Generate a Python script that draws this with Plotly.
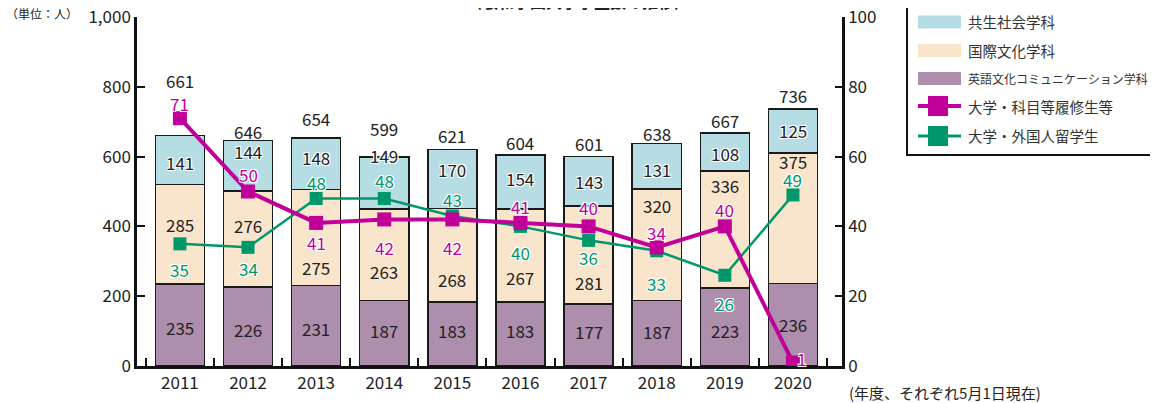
import plotly.graph_objects as go

# ---------------- data ----------------
years = ["2011", "2012", "2013", "2014", "2015", "2016", "2017", "2018", "2019", "2020"]
eigo = [235, 226, 231, 187, 183, 183, 177, 187, 223, 236]          # 英語文化コミュニケーション学科
kokusai = [285, 276, 275, 263, 268, 267, 281, 320, 336, 375]       # 国際文化学科
kyosei = [141, 144, 148, 149, 170, 154, 143, 131, 108, 125]        # 共生社会学科
totals = [661, 646, 654, 599, 621, 604, 601, 638, 667, 736]
kamoku = [71, 50, 41, 42, 42, 41, 40, 34, 40, 1]                  # 大学・科目等履修生等
ryugaku = [35, 34, 48, 48, 43, 40, 36, 33, 26, 49]                 # 大学・外国人留学生

names = ["共生社会学科", "国際文化学科", "英語文化コミュニケーション学科",
         "大学・科目等履修生等", "大学・外国人留学生"]
title = "〈敬和学園大学学生数の推移〉"
unit_label = "（単位：人）"
note_label = "(年度、それぞれ5月1日現在)"

# ---------------- style ----------------
FONT = "Noto Sans CJK JP"
BLUE = "#b5dde3"
PEACH = "#f9e5cc"
PURPLE = "#ad8eac"
MAGENTA = "#c1009a"
GREEN = "#00976a"
TXT = "#222222"
OUTLINE = "1px 1px 0 #fff, -1px -1px 0 #fff, 1px -1px 0 #fff, -1px 1px 0 #fff, 0 0 2px #fff"

W, H = 1158, 403
OFF = 8  # page body margin: the figure is drawn 8px right/down of the viewport corner
# plot area in viewport pixels: x 137..842, y 17..366
VL, VR, VT, VB = 137, 842, 17, 366
L, T = VL - OFF, VT - OFF
R, B = W - (VR - OFF), H - (VB - OFF)
PW, PH = VR - VL, VB - VT


def px(x):
    return (x - VL) / PW


def py(y):
    return (VB - y) / PH


fig = go.Figure()
bar_line = dict(color="#1a1a1a", width=1.5)
for vals, col, nm in [(eigo, PURPLE, names[2]), (kokusai, PEACH, names[1]), (kyosei, BLUE, names[0])]:
    fig.add_trace(go.Bar(x=years, y=vals, name=nm, width=0.72,
                         marker=dict(color=col, line=bar_line), showlegend=False,
                         hoverinfo="skip"))

fig.add_trace(go.Scatter(x=years, y=ryugaku, yaxis="y2", mode="lines+markers", name=names[4],
                         line=dict(color=GREEN, width=2.5),
                         marker=dict(symbol="square", size=13, color=GREEN), showlegend=False))
fig.add_trace(go.Scatter(x=years, y=kamoku, yaxis="y2", mode="lines+markers", name=names[3],
                         line=dict(color=MAGENTA, width=4),
                         marker=dict(symbol="square", size=14, color=MAGENTA), showlegend=False))

ann = []
num_font = dict(family=FONT, size=17, color=TXT)

# segment labels (x given as category index)
purple_shift = [-3, -3, -3, 3, 4, 4, 4, 2, -3, 0]
peach_shift = [10, 13, -30, -17, -24, -22, -27, 39, 44, 57]
blue_shift = [-3, 14, 6, 27, 9, 4, 0, -3, -1, 0]
for i in range(len(years)):
    a, b, c = eigo[i], kokusai[i], kyosei[i]
    ann.append(dict(x=i, y=a / 2, text=str(a), showarrow=False, yshift=purple_shift[i],
                    font=num_font))
    ann.append(dict(x=i, y=a + b / 2, text=str(b), showarrow=False, yshift=peach_shift[i],
                    font=num_font))
    ann.append(dict(x=i, y=a + b + c / 2, text=str(c), showarrow=False, yshift=blue_shift[i],
                    font=dict(family=FONT, size=17, color=TXT, shadow=OUTLINE)))

# totals
total_shift = [40, -5, 5, 14, -1, -2, -2, -5, -2, -1]
for i in range(len(years)):
    ann.append(dict(x=i, y=totals[i], text=str(totals[i]), showarrow=False, yanchor="bottom",
                    yshift=total_shift[i], font=num_font))

# line labels
mag_shift = [15, 17, -20, -28, -28, 16, 19, 15, 17, 4]
grn_shift = [-26, -21, 16, 18, 16, -26, -17, -33, -28, 15]
for i in range(len(years)):
    ann.append(dict(x=i, y=kamoku[i], yref="y2", text=str(kamoku[i]), showarrow=False,
                    yshift=mag_shift[i], xshift=9 if i == 9 else 0,
                    font=dict(family=FONT, size=17, color=MAGENTA, shadow=OUTLINE)))
    ann.append(dict(x=i, y=ryugaku[i], yref="y2", text=str(ryugaku[i]), showarrow=False,
                    yshift=grn_shift[i],
                    font=dict(family=FONT, size=17, color=GREEN, shadow=OUTLINE)))

# title / unit / note
ann.append(dict(xref="paper", yref="paper", x=px(578), y=py(1.5), text=title, showarrow=False,
                xanchor="center", yanchor="middle",
                font=dict(family=FONT, size=16, color=TXT, weight="bold")))
ann.append(dict(xref="paper", yref="paper", x=px(4), y=py(13), text=unit_label, showarrow=False,
                xanchor="left", yanchor="middle", font=dict(family=FONT, size=12, color=TXT)))
ann.append(dict(xref="paper", yref="paper", x=px(847), y=py(392), text=note_label, showarrow=False,
                xanchor="left", yanchor="middle", font=dict(family=FONT, size=15, color=TXT)))

# custom legend
shapes = [dict(type="rect", xref="paper", yref="paper", x0=px(907), x1=px(1156), y0=py(155), y1=py(3),
               line=dict(color="#111", width=2), fillcolor="white", layer="above")]
rows = [22, 50.5, 78.5, 106, 136]
for col, yc in zip([BLUE, PEACH, PURPLE], rows[:3]):
    shapes.append(dict(type="rect", xref="paper", yref="paper", x0=px(918), x1=px(961),
                       y0=py(yc + 6.5), y1=py(yc - 6.5), line=dict(width=0), fillcolor=col,
                       layer="above"))
for col, yc, lw in [(MAGENTA, rows[3], 4), (GREEN, rows[4], 3)]:
    shapes.append(dict(type="line", xref="paper", yref="paper", x0=px(918), x1=px(961),
                       y0=py(yc), y1=py(yc), line=dict(color=col, width=lw), layer="above"))
    shapes.append(dict(type="rect", xref="paper", yref="paper", x0=px(928), x1=px(948),
                       y0=py(yc + 10), y1=py(yc - 10), line=dict(width=0), fillcolor=col,
                       layer="above"))
leg_sizes = [14.5, 14.5, 12, 14.5, 14.5]
for nm, yc, fs in zip(names, [22, 50, 78, 106, 135], leg_sizes):
    ann.append(dict(xref="paper", yref="paper", x=px(966), y=py(yc), text=nm, showarrow=False,
                    xanchor="left", yanchor="middle", font=dict(family=FONT, size=fs, color="#333")))

axis_common = dict(showline=True, linecolor="#111", linewidth=2.5, tickwidth=2, tickcolor="#111",
                   showgrid=False, zeroline=False, automargin=False, ticklabeloverflow="allow",
                   tickfont=dict(family=FONT, size=17, color=TXT))
fig.update_layout(
    template="none",
    width=W, height=H, autosize=False,
    margin=dict(l=L, r=R, t=T, b=B, pad=0),
    paper_bgcolor="white", plot_bgcolor="white",
    barmode="stack",
    font=dict(family=FONT, size=17, color=TXT),
    xaxis=dict(type="category", range=[-0.63, 9.72], ticks="inside", tickson="boundaries",
               ticklen=8, **axis_common),
    yaxis=dict(range=[0, 1000], dtick=200, tickformat=",", ticks="inside", ticklen=8,
               **axis_common),
    yaxis2=dict(range=[0, 100], dtick=20, overlaying="y", side="right", ticks="inside",
                ticklen=7, **axis_common),
    annotations=ann, shapes=shapes,
)

fig.write_html("out.html")
